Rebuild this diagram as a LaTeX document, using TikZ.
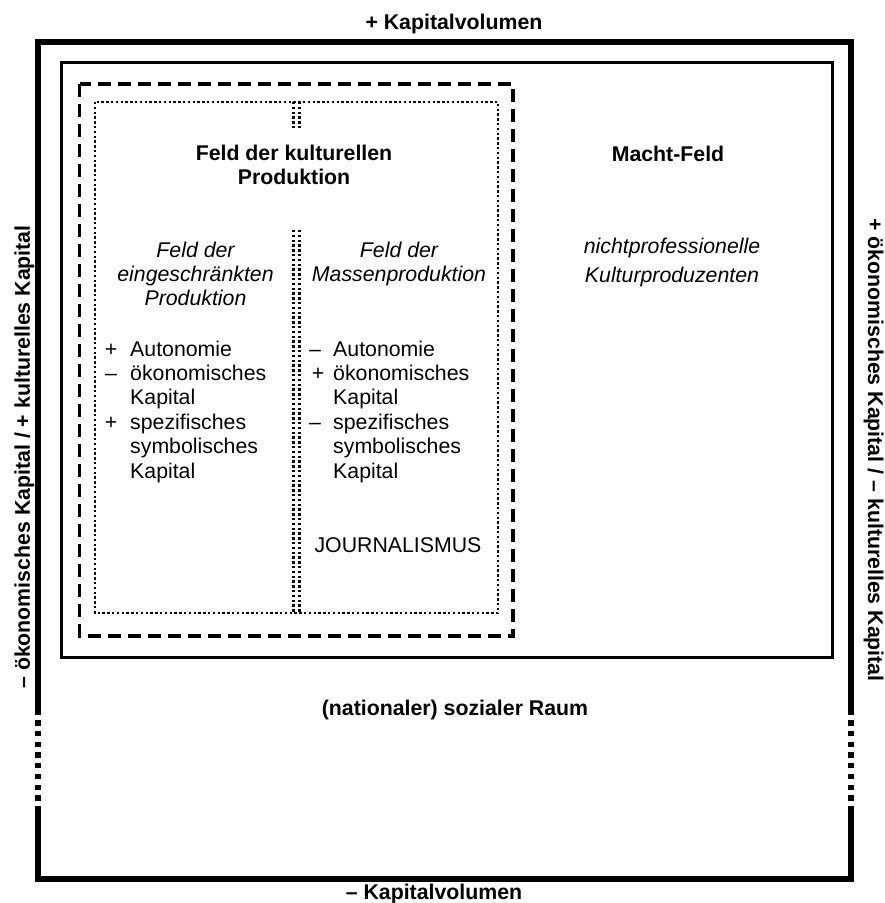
\documentclass[tikz,border=0pt]{standalone}
\usepackage{fontspec}
\setmainfont{Liberation Sans}
\begin{document}
\begin{tikzpicture}[x=1pt,y=-1pt,
  txt/.style={inner sep=0pt, anchor=base, font=\fontsize{21.3}{24}\selectfont},
  btxt/.style={txt, font=\fontsize{21.3}{24}\selectfont\bfseries},
  itxt/.style={txt, font=\fontsize{21.3}{24}\selectfont\itshape},
  ltxt/.style={txt, anchor=base west},
  frameline/.style={line width=6pt, line join=miter},
  framedots/.style={line width=6pt, dash pattern=on 5.3pt off 5.4pt, dash phase=5.4pt},
  innerframe/.style={line width=3pt},
  dashedframe/.style={line width=3.6pt, dash pattern=on 13pt off 7pt},
  dotframe/.style={line width=2.6pt, dash pattern=on 2.4pt off 2.4pt}]
\useasboundingbox (0,0) rectangle (885,903);
% outer frame
\draw[frameline] (38,715) -- (38,42) -- (851,42) -- (851,715);
\draw[frameline] (38,807) -- (38,879) -- (851,879) -- (851,807);
\draw[framedots] (38,715) -- (38,807);
\draw[framedots] (851,715) -- (851,807);
% inner frame
\draw[innerframe] (61.5,62.5) rectangle (832,657);
% dashed frame
\draw[dashedframe] (79.5,84) rectangle (513,636);
% dotted frame
\draw[dotframe] (95,102) rectangle (498,613);
\draw[dotframe] (293.5,102) -- (293.5,130);
\draw[dotframe] (299.5,102) -- (299.5,130);
\draw[dotframe] (293.5,230) -- (293.5,613);
\draw[dotframe] (299.5,230) -- (299.5,613);
% outer labels
\node[btxt] (top) at (454,29) {+ Kapitalvolumen};
\node[btxt] (bottom) at (434,899) {– Kapitalvolumen};
\node[btxt, rotate=90] (left) at (30,457) {– ökonomisches Kapital / + kulturelles Kapital};
\node[btxt, rotate=-90] (right) at (868,450) {+ ökonomisches Kapital / – kulturelles Kapital};
\node[btxt] (raum) at (455,715) {(nationaler) sozialer Raum};
% titles
\node[btxt] (fk1) at (294,160) {Feld der kulturellen};
\node[btxt] (fk2) at (294,184) {Produktion};
\node[btxt] (macht) at (668,161) {Macht-Feld};
\node[itxt] (np1) at (672,253) {nichtprofessionelle};
\node[itxt] (np2) at (672,282) {Kulturproduzenten};
\node[itxt] (fe1) at (195.5,257) {Feld der};
\node[itxt] (fe2) at (195.5,281) {eingeschränkten};
\node[itxt] (fe3) at (195.5,305) {Produktion};
\node[itxt] (fm1) at (399,257) {Feld der};
\node[itxt] (fm2) at (399,281) {Massenproduktion};
% left list
\node[txt] (lm1) at (111,356) {+};
\node[txt] (lm2) at (111,380) {–};
\node[txt] (lm4) at (111,429) {+};
\node[ltxt] (lt1) at (130,356) {Autonomie};
\node[ltxt] (lt2) at (130,380) {ökonomisches};
\node[ltxt] (lt3) at (130,404) {Kapital};
\node[ltxt] (lt4) at (130,429) {spezifisches};
\node[ltxt] (lt5) at (130,453) {symbolisches};
\node[ltxt] (lt6) at (130,478) {Kapital};
% right list
\node[txt] (rm1) at (315,356) {–};
\node[txt] (rm2) at (318,380) {+};
\node[txt] (rm4) at (315,429) {–};
\node[ltxt] (rt1) at (333,356) {Autonomie};
\node[ltxt] (rt2) at (333,380) {ökonomisches};
\node[ltxt] (rt3) at (333,404) {Kapital};
\node[ltxt] (rt4) at (333,429) {spezifisches};
\node[ltxt] (rt5) at (333,453) {symbolisches};
\node[ltxt] (rt6) at (333,478) {Kapital};
\node[txt] (journ) at (398,552) {JOURNALISMUS};
\end{tikzpicture}
\end{document}
